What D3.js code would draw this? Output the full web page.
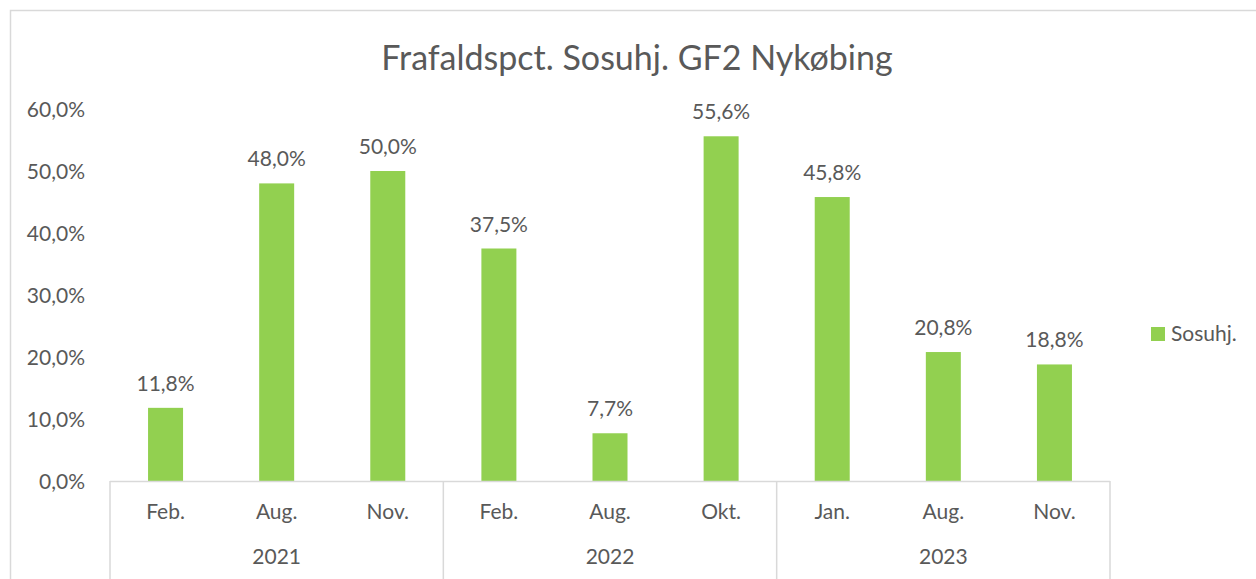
<!DOCTYPE html>
<html>
<head>
<meta charset="utf-8">
<script src="https://cdn.jsdelivr.net/npm/d3@7"></script>
<style>
  body { margin: 0; background: #fff; }
  svg { display: block; font-family: Lato, "Open Sans", sans-serif; }
</style>
</head>
<body>
<div class="chart-container"></div>
<script>
var title = 'Frafaldspct. Sosuhj. GF2 Nykøbing';
var seriesName = 'Sosuhj.';
var months = ['Feb.', 'Aug.', 'Nov.', 'Feb.', 'Aug.', 'Okt.', 'Jan.', 'Aug.', 'Nov.'];
var years = ['2021', '2022', '2023'];
var yearSpans = [3, 3, 3];
var values = [11.8, 48.0, 50.0, 37.5, 7.7, 55.6, 45.8, 20.8, 18.8];
var yTicks = [0, 10, 20, 30, 40, 50, 60];

var W = 1256, H = 579;
var margin = {top: 109, right: 146, bottom: 98, left: 110};
var textColor = '#595959';
var lineColor = '#d9d9d9';
var barColor = '#92d050';
var fs = 21;

var fmt = v => v.toFixed(1).replace('.', ',') + '%';

var svg = d3.select('.chart-container').append('svg')
  .attr('width', W)
  .attr('height', H);

// chart frame (only top and left edges are in view)
svg.append('path')
  .attr('d', 'M10.5,' + H + 'V10.5H' + W)
  .attr('fill', 'none')
  .attr('stroke', lineColor)
  .attr('stroke-width', 1.5);

var x = d3.scaleBand()
  .domain(d3.range(months.length))
  .range([margin.left, W - margin.right])
  .paddingInner(0.685)
  .paddingOuter(0.3425);

var y = d3.scaleLinear()
  .domain([0, 60])
  .range([H - margin.bottom, margin.top]);

svg.append('text')
  .attr('x', 637)
  .attr('y', 70)
  .attr('text-anchor', 'middle')
  .attr('fill', textColor)
  .attr('font-size', 34)
  .text(title);

// y axis labels
var yAxis = d3.axisLeft(y)
  .tickValues(yTicks)
  .tickFormat(fmt)
  .tickSize(0)
  .tickPadding(0);

var gY = svg.append('g')
  .attr('transform', 'translate(85,0)')
  .call(yAxis);
gY.select('.domain').remove();
gY.selectAll('text')
  .attr('fill', textColor)
  .attr('font-size', fs)
  .attr('font-family', 'Lato, "Open Sans", sans-serif')
  .attr('dy', '0.35em');

// bars
svg.append('g').selectAll('rect')
  .data(values)
  .enter().append('rect')
    .attr('x', (d, i) => x(i))
    .attr('y', d => y(d))
    .attr('width', x.bandwidth())
    .attr('height', d => y(0) - y(d))
    .attr('fill', barColor);

// data labels
svg.append('g').selectAll('text')
  .data(values)
  .enter().append('text')
    .attr('x', (d, i) => x(i) + x.bandwidth() / 2)
    .attr('y', d => y(d) - 17)
    .attr('text-anchor', 'middle')
    .attr('fill', textColor)
    .attr('font-size', fs)
    .text(fmt);

// category axis
var x0 = margin.left, x1 = W - margin.right;
var base = y(0);
svg.append('line')
  .attr('x1', x0).attr('x2', x1)
  .attr('y1', base + 0.5).attr('y2', base + 0.5)
  .attr('stroke', lineColor)
  .attr('stroke-width', 1.5);

var step = x.step();
var start = x(0) - x.paddingOuter() * step;

svg.append('g').selectAll('text')
  .data(months)
  .enter().append('text')
    .attr('x', (d, i) => x(i) + x.bandwidth() / 2)
    .attr('y', base + 38)
    .attr('text-anchor', 'middle')
    .attr('fill', textColor)
    .attr('font-size', fs)
    .text(d => d);

var offsets = [0];
yearSpans.forEach((s, i) => offsets.push(offsets[i] + s));

svg.append('g').selectAll('line')
  .data(offsets)
  .enter().append('line')
    .attr('x1', d => start + d * step)
    .attr('x2', d => start + d * step)
    .attr('y1', base)
    .attr('y2', H)
    .attr('stroke', lineColor)
    .attr('stroke-width', 1.5);

svg.append('g').selectAll('text')
  .data(years)
  .enter().append('text')
    .attr('x', (d, i) => start + (offsets[i] + yearSpans[i] / 2) * step)
    .attr('y', base + 83)
    .attr('text-anchor', 'middle')
    .attr('fill', textColor)
    .attr('font-size', fs)
    .text(d => d);

// legend
var legend = svg.append('g')
  .attr('transform', 'translate(1151,327)');
legend.append('rect')
  .attr('width', 14)
  .attr('height', 14)
  .attr('fill', barColor);
legend.append('text')
  .attr('x', 20)
  .attr('y', 7)
  .attr('dy', '0.35em')
  .attr('fill', textColor)
  .attr('font-size', fs)
  .text(seriesName);
</script>
</body>
</html>
